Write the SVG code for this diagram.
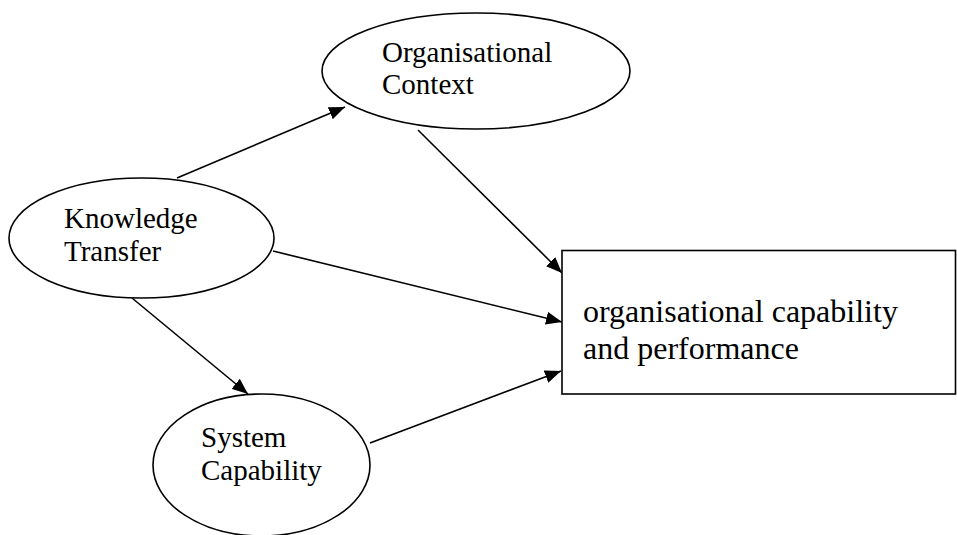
<svg xmlns="http://www.w3.org/2000/svg" width="957" height="535" viewBox="0 0 957 535">
<style>
.shape{fill:#fff;stroke:#000;stroke-width:1.6}
.lbl{font-family:"Liberation Serif","Times New Roman",serif;font-size:29px;fill:#000}
.big{font-family:"Liberation Serif","Times New Roman",serif;font-size:32px;fill:#000}
.conn{stroke:#000;stroke-width:1.6;fill:none;marker-end:url(#arr)}
</style>
<defs>
<marker id="arr" markerUnits="userSpaceOnUse" markerWidth="16" markerHeight="13" refX="16" refY="6.5" orient="auto">
<path d="M0,0 L16,6.5 L0,13 z" fill="#000"/>
</marker>
</defs>
<rect width="957" height="535" fill="#fff"/>
<g id="connectors">
<line class="conn" x1="177" y1="178" x2="345" y2="107"/>
<line class="conn" x1="418" y1="130" x2="562" y2="273"/>
<line class="conn" x1="273" y1="251" x2="562" y2="322"/>
<line class="conn" x1="132" y1="298" x2="248" y2="394"/>
<line class="conn" x1="370" y1="443" x2="561" y2="371"/>
</g>
<g id="organisational-context">
<ellipse class="shape" cx="476" cy="71" rx="154" ry="58"/>
<text class="lbl" x="382" y="62">Organisational</text>
<text class="lbl" x="382" y="94">Context</text>
</g>
<g id="knowledge-transfer">
<ellipse class="shape" cx="141.5" cy="238" rx="132.5" ry="60"/>
<text class="lbl" x="64" y="228">Knowledge</text>
<text class="lbl" x="64" y="261">Transfer</text>
</g>
<g id="system-capability">
<ellipse class="shape" cx="261.5" cy="465" rx="108.5" ry="71"/>
<text class="lbl" x="201" y="447">System</text>
<text class="lbl" x="201" y="480">Capability</text>
</g>
<g id="organisational-capability">
<rect class="shape" x="562" y="250.5" width="393.5" height="143.5"/>
<text class="big" x="583" y="322">organisational capability</text>
<text class="big" x="583" y="359">and performance</text>
</g>
</svg>
